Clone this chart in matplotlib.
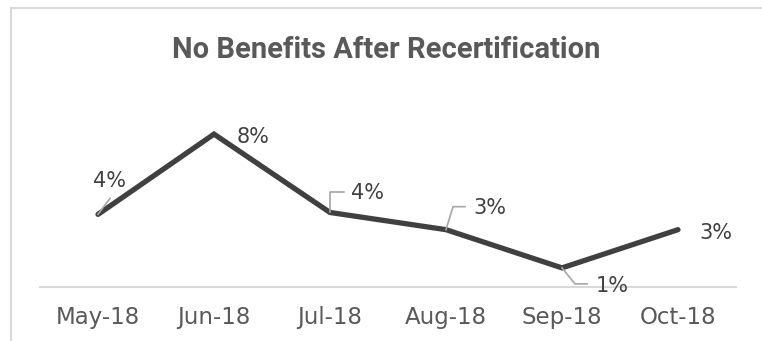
import matplotlib
matplotlib.use("Agg")
import matplotlib.pyplot as plt
from matplotlib.lines import Line2D

months = ["May-18", "Jun-18", "Jul-18", "Aug-18", "Sep-18", "Oct-18"]
no_benefits = [0.038, 0.080, 0.039, 0.030, 0.010, 0.030]

# label placement per point: text offset and leader line vertices, in pixels
label_offsets = [(12, 33), (39, -3), (38, 19), (44, 22), (50, -18), (38, -3)]
leaders = [
    [(0, 0), (12, 16)],
    None,
    [(0, 0), (0, 20), (14, 20)],
    [(0, 0), (7, 23), (19, 23)],
    [(0, 0), (13, -16), (25, -16)],
    None,
]

W, H = 762, 341
fig = plt.figure(figsize=(W / 100, H / 100), dpi=100)
ax = fig.add_axes([40 / W, 54 / H, 696 / W, 172 / H])

x = list(range(len(months)))
ax.plot(x, no_benefits, color="#404040", lw=3.8, solid_capstyle="round",
        solid_joinstyle="miter", zorder=3)

ax.set_xlim(-0.5, len(months) - 0.5)
ax.set_ylim(0, 0.09)
ax.set_xticks(x)
ax.set_xticklabels(months)
ax.set_yticks([])
ax.tick_params(axis="x", length=0, pad=14, labelsize=16.5, labelcolor="#595959")
for lbl in ax.get_xticklabels():
    lbl.set_family("DejaVu Sans")
for side in ["left", "right", "top"]:
    ax.spines[side].set_visible(False)
ax.spines["bottom"].set_color("#d9d9d9")
ax.spines["bottom"].set_linewidth(1.5)

fig.canvas.draw()
for xi, v, off, lead in zip(x, no_benefits, label_offsets, leaders):
    px, py = ax.transData.transform((xi, v))
    if lead:
        fig.add_artist(Line2D([px + dx for dx, dy in lead],
                              [py + dy for dx, dy in lead],
                              transform=None, color="#a6a6a6", lw=1.2, zorder=2))
    ax.text(px + off[0], py + off[1], f"{v:.0%}", transform=None,
            ha="center", va="center", fontsize=15, color="#404040",
            family="DejaVu Sans")

fig.text(386 / W, 283 / H, "No Benefits After Recertification", ha="center",
         va="baseline", fontsize=21, fontweight="bold", color="#595959",
         family="Roboto")

# outer frame of the chart area
fig.add_artist(Line2D([11 / W, 1], [333 / H, 333 / H], transform=fig.transFigure,
                      color="#d9d9d9", lw=1.5))
fig.add_artist(Line2D([11 / W, 11 / W], [333 / H, 0], transform=fig.transFigure,
                      color="#d9d9d9", lw=1.5))

fig.savefig("out.png", dpi=100)
